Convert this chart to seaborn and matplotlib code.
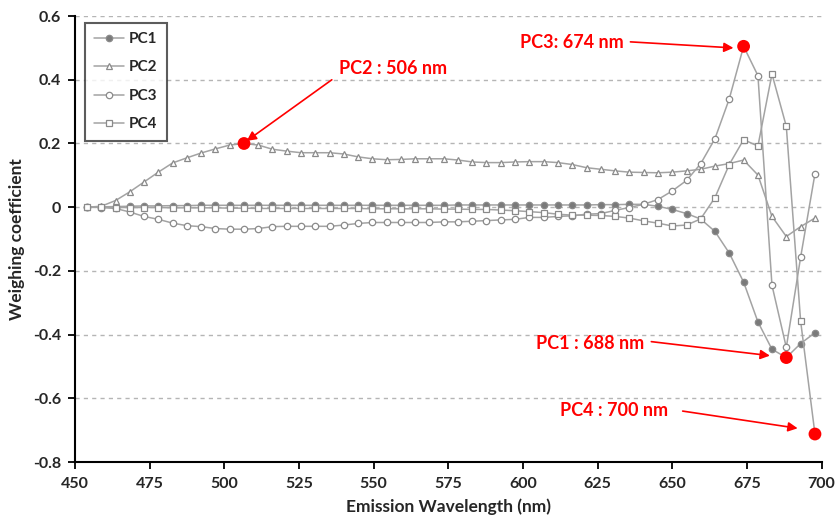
import pandas as pd
import seaborn as sns
import matplotlib.pyplot as plt

# Emission wavelengths (nm) of the sampled channels
wavelength = [454.0, 458.8, 463.6, 468.3, 473.1, 477.9, 482.7, 487.5, 492.2, 497.0,
              501.8, 506.6, 511.4, 516.1, 520.9, 525.7, 530.5, 535.3, 540.0, 544.8,
              549.6, 554.4, 559.2, 563.9, 568.7, 573.5, 578.3, 583.1, 587.8, 592.6,
              597.4, 602.2, 607.0, 611.7, 616.5, 621.3, 626.1, 630.9, 635.6, 640.4,
              645.2, 650.0, 654.8, 659.5, 664.3, 669.1, 673.9, 678.7, 683.4, 688.2,
              693.0, 697.8]

# Weighing coefficients
pc1 = [0.000, 0.001, 0.002, 0.003, 0.004, 0.004, 0.005, 0.005, 0.006, 0.006,
       0.006, 0.006, 0.006, 0.006, 0.006, 0.006, 0.006, 0.006, 0.006, 0.006,
       0.006, 0.006, 0.006, 0.006, 0.006, 0.006, 0.007, 0.007, 0.007, 0.007,
       0.007, 0.007, 0.007, 0.007, 0.007, 0.007, 0.008, 0.008, 0.009, 0.009,
       0.003, -0.007, -0.020, -0.037, -0.076, -0.144, -0.235, -0.360, -0.446, -0.472,
       -0.428, -0.394]
pc2 = [0.000, 0.003, 0.021, 0.048, 0.079, 0.110, 0.139, 0.155, 0.170, 0.183,
       0.195, 0.200, 0.195, 0.182, 0.176, 0.171, 0.171, 0.171, 0.167, 0.158,
       0.152, 0.149, 0.150, 0.152, 0.152, 0.152, 0.148, 0.142, 0.140, 0.140,
       0.142, 0.143, 0.143, 0.140, 0.134, 0.124, 0.119, 0.114, 0.110, 0.109,
       0.108, 0.110, 0.114, 0.119, 0.129, 0.137, 0.148, 0.101, -0.029, -0.092,
       -0.061, -0.034]
pc3 = [0.001, -0.001, -0.004, -0.015, -0.029, -0.038, -0.050, -0.058, -0.061, -0.067,
       -0.069, -0.069, -0.067, -0.061, -0.060, -0.060, -0.060, -0.060, -0.056, -0.051,
       -0.048, -0.048, -0.048, -0.048, -0.048, -0.046, -0.046, -0.044, -0.042, -0.040,
       -0.038, -0.032, -0.032, -0.029, -0.027, -0.022, -0.020, -0.010, -0.001, 0.009,
       0.024, 0.051, 0.084, 0.136, 0.215, 0.340, 0.505, 0.413, -0.245, -0.440,
       -0.157, 0.105]
pc4 = [0.000, 0.000, -0.001, -0.001, -0.001, -0.001, -0.002, -0.002, -0.002, -0.002,
       -0.003, -0.003, -0.004, -0.004, -0.004, -0.004, -0.004, -0.004, -0.004, -0.004,
       -0.005, -0.005, -0.005, -0.005, -0.005, -0.006, -0.006, -0.007, -0.007, -0.009,
       -0.011, -0.014, -0.017, -0.022, -0.025, -0.025, -0.026, -0.029, -0.034, -0.043,
       -0.050, -0.059, -0.056, -0.037, 0.030, 0.134, 0.212, 0.192, 0.418, 0.254,
       -0.358, -0.712]

components = ["PC1", "PC2", "PC3", "PC4"]
values = {"PC1": pc1, "PC2": pc2, "PC3": pc3, "PC4": pc4}

# Highlighted extremes (index into wavelength) and their labels
peak_index = {"PC2": 11, "PC3": 46, "PC1": 49, "PC4": 51}
peak_label = {"PC2": "PC2 : 506 nm", "PC3": "PC3: 674 nm",
              "PC1": "PC1 : 688 nm", "PC4": "PC4 : 700 nm"}

df = pd.DataFrame({
    "wavelength": wavelength * len(components),
    "coef": pc1 + pc2 + pc3 + pc4,
    "component": [c for c in components for _ in wavelength],
})

sns.set_style("white")
plt.rcParams["font.family"] = ["Lato", "DejaVu Sans"]

fig = plt.figure(figsize=(8.36, 5.18), dpi=100)
ax = fig.add_axes([0.0897, 0.108, 0.893, 0.861])

markers = {"PC1": "o", "PC2": "^", "PC3": "o", "PC4": "s"}
faces = {"PC1": "#7a7a7a", "PC2": "white", "PC3": "white", "PC4": "white"}

for name in components:
    sns.lineplot(data=df[df.component == name], x="wavelength", y="coef", ax=ax,
                 color="#a3a3a3", lw=1.1, marker=markers[name], markersize=4.6,
                 markerfacecolor=faces[name], markeredgecolor="#8a8a8a",
                 markeredgewidth=0.9, label=name, zorder=3)

# red dots on the extremes
pk = pd.DataFrame({
    "wavelength": [wavelength[i] for i in peak_index.values()],
    "coef": [values[c][i] for c, i in peak_index.items()],
})
sns.scatterplot(data=pk, x="wavelength", y="coef", ax=ax, color="#ff0000",
                s=85, edgecolor="none", zorder=5, legend=False)

# label text positions and arrow tails (data coords)
text_pos = {"PC2": (556.5, 0.434), "PC3": (616.5, 0.516),
            "PC1": (622.5, -0.428), "PC4": (630.5, -0.637)}
arrow_from = {"PC2": (536.0, 0.400), "PC3": (636.0, 0.519),
              "PC1": (643.0, -0.422), "PC4": (653.5, -0.640)}
arrow_to = {"PC2": (507.5, 0.208), "PC3": (670.5, 0.500),
            "PC1": (682.7, -0.466), "PC4": (692.0, -0.694)}

for name in ["PC2", "PC3", "PC1", "PC4"]:
    ax.text(*text_pos[name], peak_label[name], color="#ff0000", fontsize=13,
            fontweight="bold", ha="center", va="center")
    ax.annotate("", xy=arrow_to[name], xytext=arrow_from[name],
                arrowprops=dict(arrowstyle="-|>", color="#ff0000", lw=1.2,
                                mutation_scale=14, shrinkA=0, shrinkB=0))

ax.set_xlim(450, 700)
ax.set_ylim(-0.8, 0.6)
ax.set_xticks(range(450, 701, 25))
ax.set_yticks([-0.8, -0.6, -0.4, -0.2, 0, 0.2, 0.4, 0.6])
ax.set_yticklabels(["-0.8", "-0.6", "-0.4", "-0.2", "0", "0.2", "0.4", "0.6"])

ax.yaxis.grid(True, color="#b5b5b5", linestyle=(0, (3, 3)), lw=1)
ax.xaxis.grid(False)
ax.set_axisbelow(True)

sns.despine(ax=ax)
for side in ["left", "bottom"]:
    ax.spines[side].set_color("black")
    ax.spines[side].set_linewidth(1.5)

ax.tick_params(axis="both", direction="out", length=5, width=1.3, color="black",
               labelsize=11.5, bottom=True, left=True)
ax.tick_params(axis="x", pad=6)
ax.tick_params(axis="y", pad=5)
for lab in ax.get_xticklabels() + ax.get_yticklabels():
    lab.set_fontweight("bold")

ax.set_xlabel("Emission Wavelength (nm)", fontsize=12.5, fontweight="bold", labelpad=5)
ax.set_ylabel("Weighing coefficient", fontsize=12.5, fontweight="bold", labelpad=6)

leg = ax.legend(loc="upper left", bbox_to_anchor=(0.013, 0.985), borderaxespad=0,
                frameon=True, fancybox=False, edgecolor="#333333",
                prop={"weight": "bold", "size": 11}, labelspacing=0.95,
                handlelength=2.0, handletextpad=0.3, borderpad=0.6)
leg.get_frame().set_linewidth(1.5)

fig.savefig("out.png", dpi=100)
